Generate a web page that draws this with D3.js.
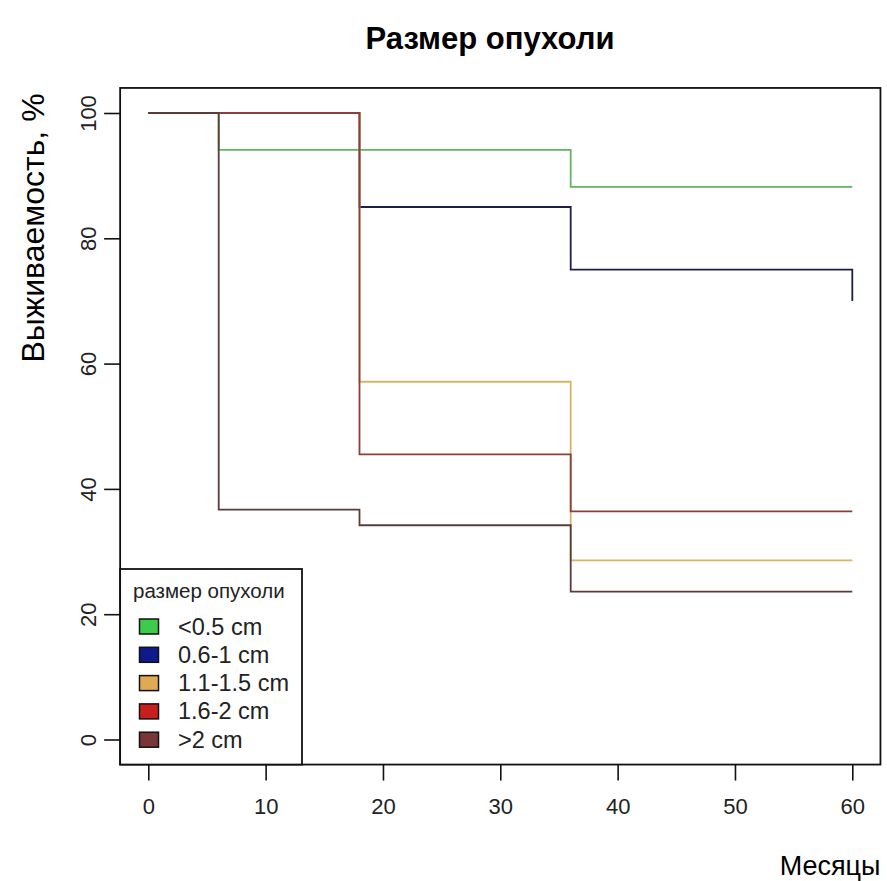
<!DOCTYPE html>
<html>
<head>
<meta charset="utf-8">
<script src="https://cdn.jsdelivr.net/npm/d3@7"></script>
<style>
	html, body { margin: 0; padding: 0; background: #fff; }
	svg { display: block; font-family: "Liberation Sans", Arial, sans-serif; }
</style>
</head>
<body>
<svg id="chart"></svg>
<script>
// data
const groupNames = ['<0.5 cm', '0.6-1 cm', '1.1-1.5 cm', '1.6-2 cm', '>2 cm'];
const groupTimes = [
	[0, 6, 36, 60],
	[0, 18, 36, 60],
	[0, 18, 36, 60],
	[0, 18, 36, 60],
	[0, 6, 18, 36, 60]
];
const groupSurvival = [
	[100, 94.1, 88.2, 88.2],
	[100, 85, 75, 70],
	[100, 57.1, 28.6, 28.6],
	[100, 45.5, 36.4, 36.4],
	[100, 36.7, 34.2, 23.6, 23.6]
];
const xTicks = [0, 10, 20, 30, 40, 50, 60];
const yTicks = [0, 20, 40, 60, 80, 100];

const lineColors = ['#62b462', '#1e1e4a', '#d6b464', '#8e3c3c', '#5a3c3c'];
const fillColors = ['#3ccc4a', '#0d1a8c', '#e0aa55', '#c81e1e', '#7a3636'];

/*
 * KMChart - survival step curves drawn in an R-like box
 */
class KMChart {

	constructor(svgSelector, options) {
		let defaults = {
			width: 887,
			height: 881,
			xPx: [148.3, 852.3],// pixel position of x = 0 and x = 60
			yPx: [739.5, 113],// pixel position of y = 0 and y = 100
			tickLength: 16
		};
		this.settings = Object.assign({}, defaults, options);
		this.svg = d3.select(svgSelector)
			.attr('width', this.settings.width)
			.attr('height', this.settings.height);

		this.createChart();
	}

	_createScales() {
		let s = this.settings;
		this.x = d3.scaleLinear().domain([0, 60]).range(s.xPx);
		this.y = d3.scaleLinear().domain([0, 100]).range(s.yPx);
		// R pads the range by 4%
		this.box = {
			left: this.x(-2.4),
			right: this.x(62.4),
			top: this.y(104),
			bottom: this.y(-4)
		};
	}

	_addCurves() {
		let line = d3.line()
			.x((d) => this.x(d[0]))
			.y((d) => this.y(d[1]))
			.curve(d3.curveStepAfter);

		let g = this.svg.append('g').attr('class', 'curves');
		groupTimes.forEach((times, i) => {
			let pts = times.map((t, j) => [t, groupSurvival[i][j]]);
			g.append('path')
				.attr('d', line(pts))
				.attr('fill', 'none')
				.attr('stroke', lineColors[i])
				.attr('stroke-width', 1.8);
		});
	}

	_createAxes() {
		let s = this.settings,
			box = this.box;

		let xAxis = d3.axisBottom(this.x)
			.tickValues(xTicks)
			.tickSize(s.tickLength)
			.tickPadding(18);

		let gx = this.svg.append('g')
			.attr('transform', 'translate(0,' + box.bottom + ')')
			.call(xAxis);
		gx.select('.domain').remove();
		gx.selectAll('line').attr('stroke', '#111').attr('stroke-width', 1.6);
		gx.selectAll('text')
			.attr('fill', '#222')
			.style('font-size', '22px');

		let yAxis = d3.axisLeft(this.y)
			.tickValues(yTicks)
			.tickSize(s.tickLength);

		let gy = this.svg.append('g')
			.attr('transform', 'translate(' + box.left + ',0)')
			.call(yAxis);
		gy.select('.domain').remove();
		gy.selectAll('line').attr('stroke', '#111').attr('stroke-width', 1.6);
		// R draws y tick labels parallel to the axis
		gy.selectAll('text')
			.attr('fill', '#222')
			.attr('x', null)
			.attr('dy', null)
			.attr('text-anchor', 'middle')
			.attr('transform', 'translate(' + (-s.tickLength - 8) + ',0) rotate(-90)')
			.style('font-size', '22px');

		// box round the plot region
		this.svg.append('rect')
			.attr('x', box.left)
			.attr('y', box.top)
			.attr('width', box.right - box.left)
			.attr('height', box.bottom - box.top)
			.attr('fill', 'none')
			.attr('stroke', '#111')
			.attr('stroke-width', 1.8);
	}

	_addTitles() {
		let box = this.box;

		this.svg.append('text')
			.attr('x', 490)
			.attr('y', 49)
			.attr('text-anchor', 'middle')
			.style('font-size', '31px')
			.style('font-weight', 'bold')
			.text('Размер опухоли');

		this.svg.append('text')
			.attr('transform', 'translate(44,228) rotate(-90)')
			.attr('text-anchor', 'middle')
			.style('font-size', '32px')
			.text('Выживаемость, %');

		this.svg.append('text')
			.attr('x', box.right)
			.attr('y', 875)
			.attr('text-anchor', 'end')
			.style('font-size', '27px')
			.text('Месяцы');
	}

	_addLegend() {
		let box = this.box,
			left = box.left,
			top = 569,
			right = 302,
			rowStep = 28.3,
			firstRow = 626.5;

		let g = this.svg.append('g').attr('class', 'legend');

		g.append('rect')
			.attr('x', left)
			.attr('y', top)
			.attr('width', right - left)
			.attr('height', box.bottom - top)
			.attr('fill', '#fff')
			.attr('stroke', '#111')
			.attr('stroke-width', 1.8);

		g.append('text')
			.attr('x', 133)
			.attr('y', 598)
			.style('font-size', '20.5px')
			.attr('fill', '#222')
			.text('размер опухоли');

		let rows = g.selectAll('.row')
			.data(groupNames)
			.enter()
			.append('g')
			.attr('transform', (d, i) => 'translate(0,' + (firstRow + i * rowStep) + ')');

		rows.append('rect')
			.attr('x', 139.5)
			.attr('y', -7.5)
			.attr('width', 19)
			.attr('height', 15)
			.attr('fill', (d, i) => fillColors[i])
			.attr('stroke', '#111')
			.attr('stroke-width', 1.5);

		rows.append('text')
			.attr('x', 178)
			.attr('y', 8)
			.style('font-size', '23.5px')
			.attr('fill', '#222')
			.text((d) => d);
	}

	createChart() {
		this._createScales();
		this._addCurves();
		this._createAxes();
		this._addLegend();
		this._addTitles();
	}
}

new KMChart('#chart');
</script>
</body>
</html>
